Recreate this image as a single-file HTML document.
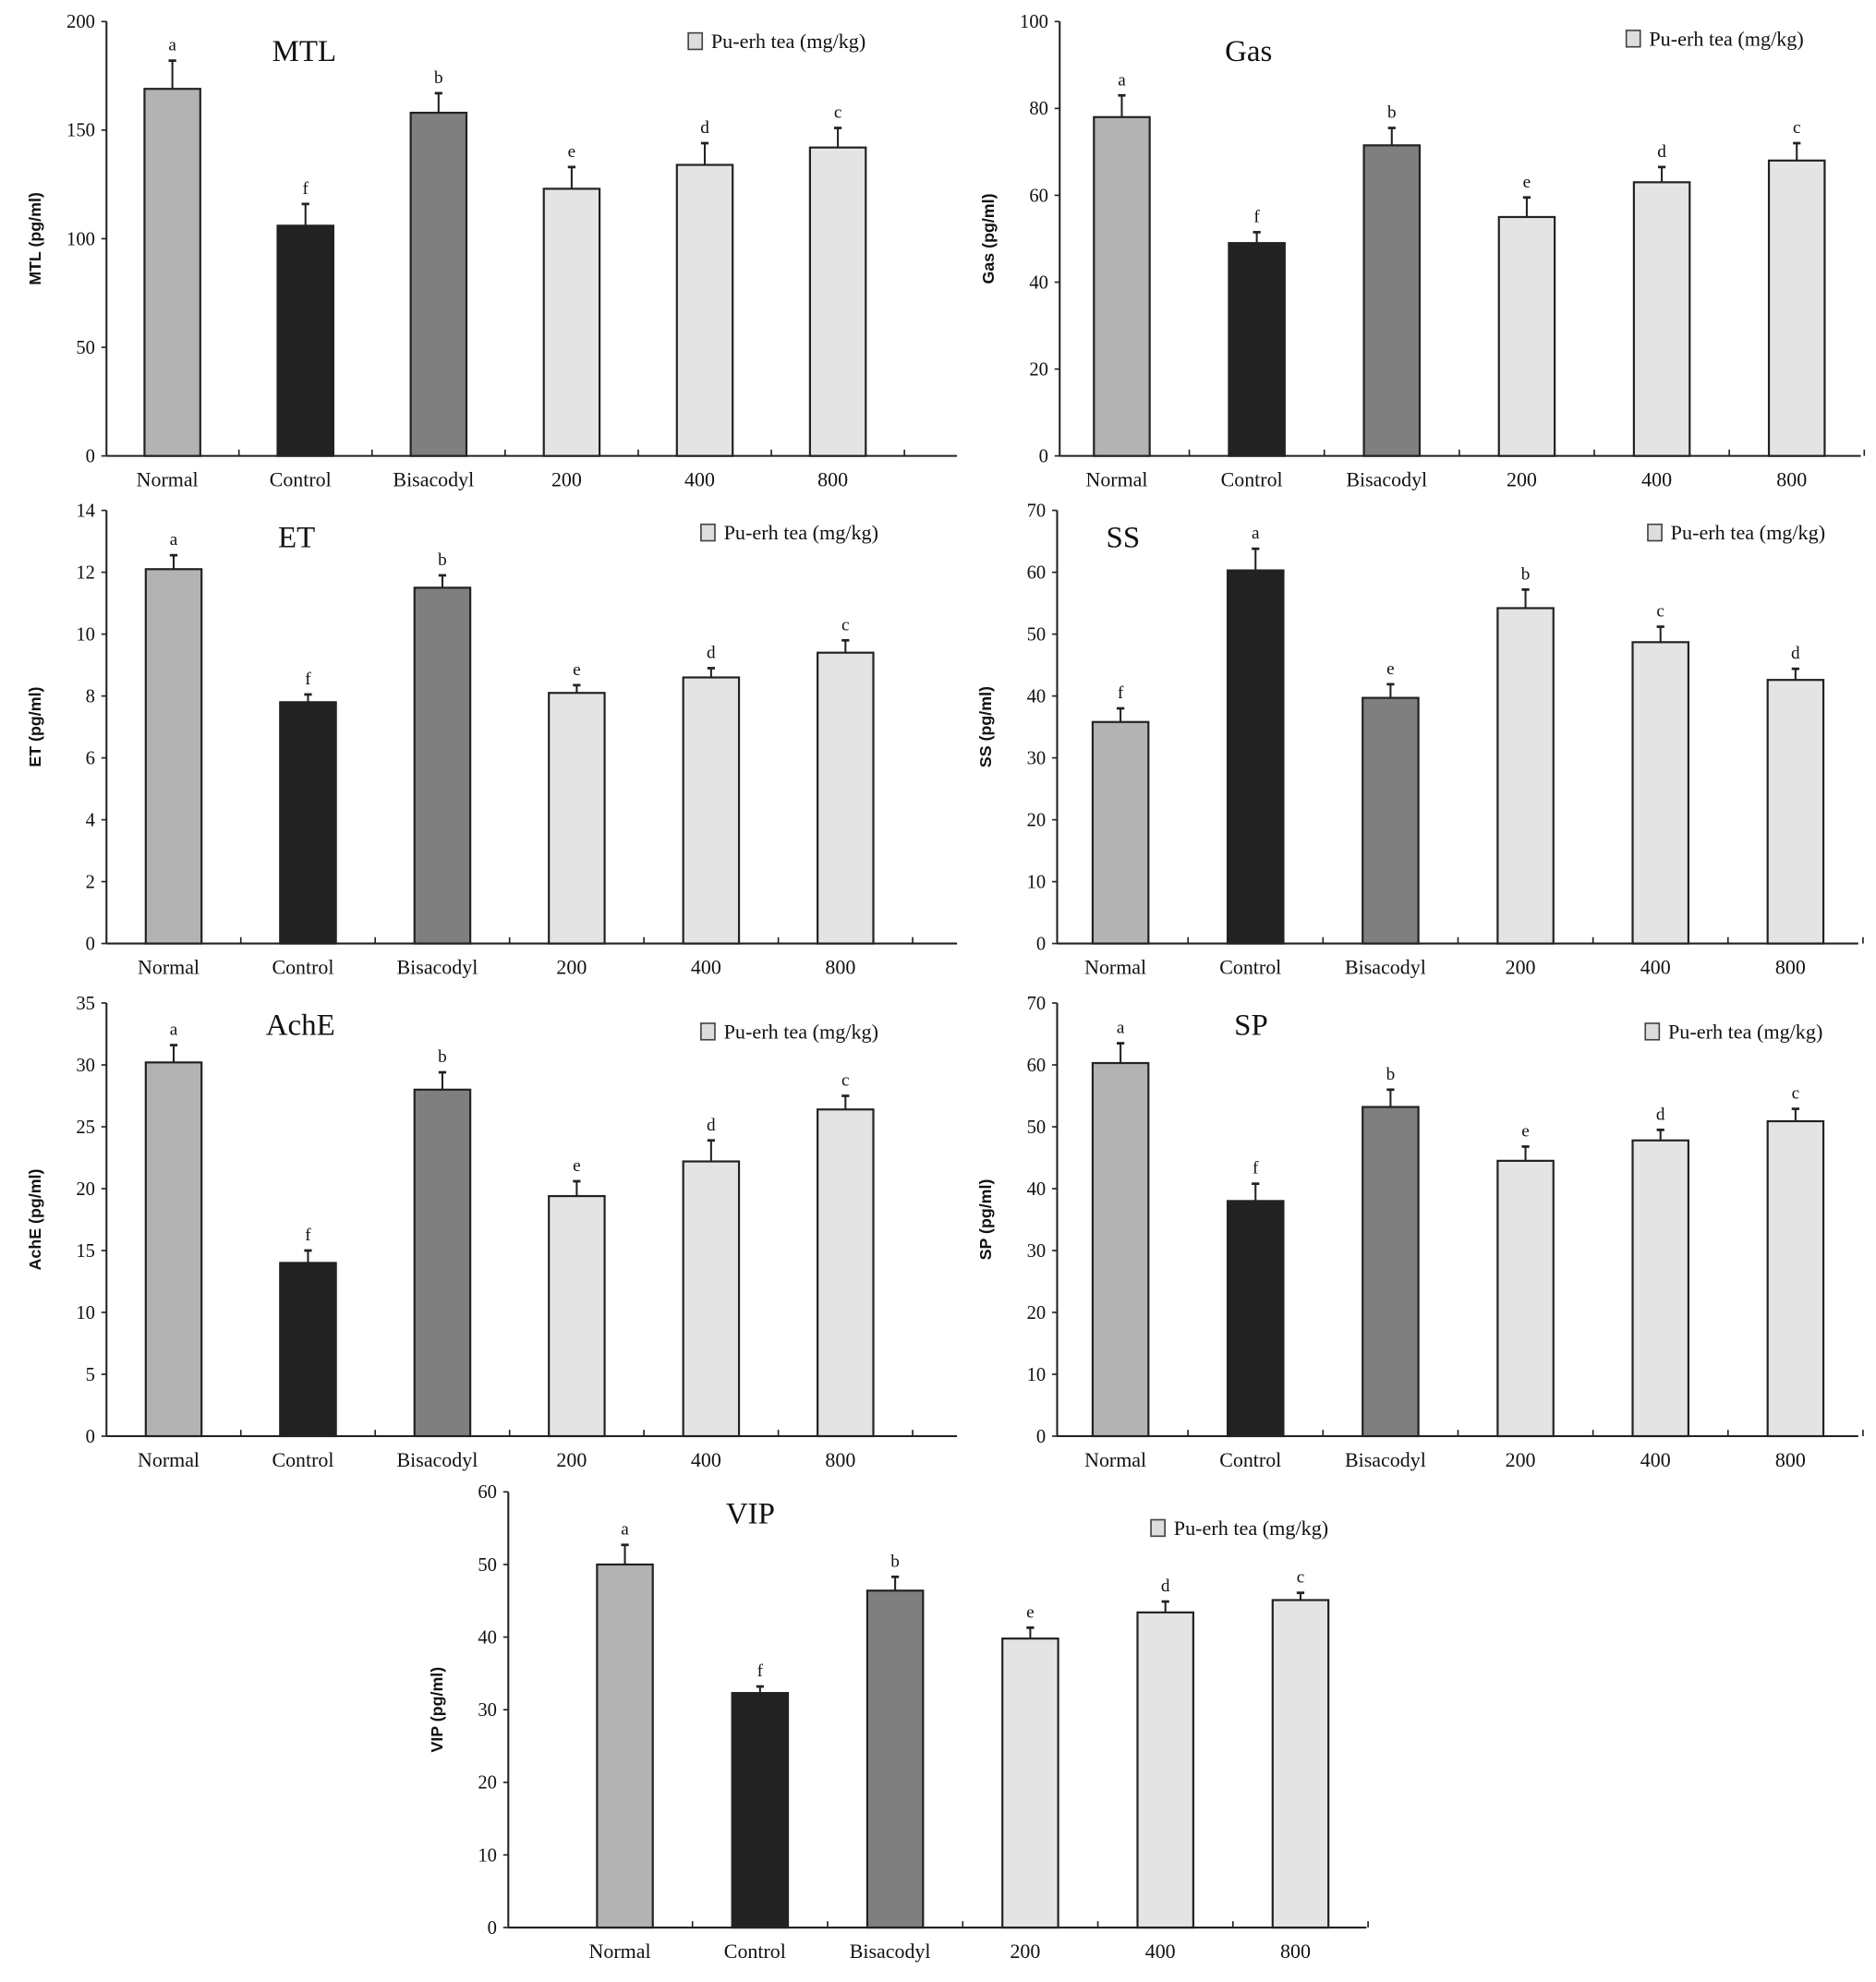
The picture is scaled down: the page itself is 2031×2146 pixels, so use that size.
<!DOCTYPE html>
<html><head><meta charset="utf-8"><style>
html,body{margin:0;padding:0;background:#fff;}
svg{display:block;}
text{font-family:"Liberation Serif",serif;fill:#111;}
.yt{font-family:"Liberation Sans",sans-serif;font-weight:bold;}
</style></head><body>
<svg id="fig" width="2031" height="2146" viewBox="0 0 1480 1565" preserveAspectRatio="none" xmlns="http://www.w3.org/2000/svg"></svg>
<script>
const categories = ["Normal","Control","Bisacodyl","200","400","800"];
const mtlValues = [169,106,158,123,134,142];
const mtlErrors = [13,10,9,10,10,9];
const mtlLetters = ["a","f","b","e","d","c"];
const mtlTicks = [0,50,100,150,200];
const gasValues = [78,49,71.5,55,63,68];
const gasErrors = [5,2.5,4,4.5,3.5,4];
const gasLetters = ["a","f","b","e","d","c"];
const gasTicks = [0,20,40,60,80,100];
const etValues = [12.1,7.8,11.5,8.1,8.6,9.4];
const etErrors = [0.45,0.25,0.4,0.25,0.3,0.4];
const etLetters = ["a","f","b","e","d","c"];
const etTicks = [0,2,4,6,8,10,12,14];
const ssValues = [35.8,60.3,39.7,54.2,48.7,42.6];
const ssErrors = [2.2,3.5,2.2,3,2.5,1.8];
const ssLetters = ["f","a","e","b","c","d"];
const ssTicks = [0,10,20,30,40,50,60,70];
const acheValues = [30.2,14,28,19.4,22.2,26.4];
const acheErrors = [1.4,1,1.4,1.2,1.7,1.1];
const acheLetters = ["a","f","b","e","d","c"];
const acheTicks = [0,5,10,15,20,25,30,35];
const spValues = [60.3,38,53.2,44.5,47.8,50.9];
const spErrors = [3.2,2.8,2.8,2.3,1.7,2];
const spLetters = ["a","f","b","e","d","c"];
const spTicks = [0,10,20,30,40,50,60,70];
const vipValues = [50,32.3,46.4,39.8,43.4,45.1];
const vipErrors = [2.7,0.9,1.9,1.5,1.5,1];
const vipLetters = ["a","f","b","e","d","c"];
const vipTicks = [0,10,20,30,40,50,60];

const NS="http://www.w3.org/2000/svg";
const svg=document.getElementById('fig');
function mk(tag,attrs,parent){const e=document.createElementNS(NS,tag);for(const k in attrs)e.setAttribute(k,attrs[k]);(parent||svg).appendChild(e);return e;}
const fills=["#b3b3b3","#222222","#7f7f7f","#e4e4e4","#e4e4e4","#e4e4e4"];

function panel(name,values,errors,letters,ticks,g){
  const grp=mk('g',{});
  
  
  const maxV=ticks[ticks.length-1];
  const y=v=>g.y0-(v/maxV)*(g.y0-g.yTop);
  const x=i=>g.first+i*g.step;
  // y axis
  const ya=mk('line',{x1:g.ax,y1:g.yTop,x2:g.ax,y2:g.y0,stroke:'#222','stroke-width':1.5},grp);
  
  
  const xa=mk('line',{x1:g.ax,y1:g.y0,x2:g.xEnd,y2:g.y0,stroke:'#222','stroke-width':1.5},grp);
  
  
  ticks.forEach(t=>{
    mk('line',{x1:g.ax-4,y1:y(t),x2:g.ax,y2:y(t),stroke:'#222','stroke-width':1.2},grp);
    const tl=mk('text',{x:g.ax-9,y:y(t)+5,'text-anchor':'end','font-size':15},grp);
    tl.textContent=t;
    
    
  });
  for(let i=1;i<=6;i++){const tx=x(i)-g.step/2;mk('line',{x1:tx,y1:g.y0,x2:tx,y2:g.y0-5,stroke:'#222','stroke-width':1.2},grp);}
  values.forEach((v,i)=>{
    const cx=x(i),w=44,top=y(v),et=y(v+errors[i]);
    mk('line',{x1:cx,y1:top,x2:cx,y2:et,stroke:'#222','stroke-width':1.5},grp);
    mk('line',{x1:cx-3,y1:et,x2:cx+3,y2:et,stroke:'#222','stroke-width':2},grp);
    const b=mk('rect',{x:cx-w/2,y:top,width:w,height:g.y0-top,fill:fills[i],stroke:'#222','stroke-width':1.6},grp);
    
    
    const lt=mk('text',{x:cx,y:et-8,'text-anchor':'middle','font-size':14},grp);
    lt.textContent=letters[i];
    
    
    const cl=mk('text',{x:cx-4,y:g.y0+24,'text-anchor':'middle','font-size':16},grp);
    cl.textContent=categories[i];
    
    
  });
  const tt=mk('text',{x:g.tx,y:g.ty,'text-anchor':'middle','font-size':24},grp);
  tt.textContent=name;
  
  
  const yl=mk('text',{x:0,y:0,'text-anchor':'middle','font-size':13,class:'yt',transform:'translate('+(g.ax-52)+','+((g.yTop+g.y0)/2)+') rotate(-90)'},grp);
  yl.textContent=name+' (pg/ml)';
  
  
  const ls=mk('rect',{x:g.lx,y:g.ly-12,width:11,height:13,fill:'#ddd',stroke:'#444','stroke-width':1.2},grp);
  
  
  const lg=mk('text',{x:g.lx+18,y:g.ly,'font-size':16,textLength:122,lengthAdjust:'spacingAndGlyphs'},grp);
  lg.textContent='Pu-erh tea (mg/kg)';
  
  
}
panel('MTL',mtlValues,mtlErrors,mtlLetters,mtlTicks,{ax:84,xEnd:755,yTop:17,y0:360,first:136,step:105,tx:240,ty:48,lx:543,ly:38});
panel('Gas',gasValues,gasErrors,gasLetters,gasTicks,{ax:836,xEnd:1468,yTop:17,y0:360,first:885,step:106.5,tx:985,ty:48,lx:1283,ly:36});
panel('ET',etValues,etErrors,etLetters,etTicks,{ax:84,xEnd:755,yTop:403,y0:745,first:137,step:106,tx:234,ty:432,lx:553,ly:426});
panel('SS',ssValues,ssErrors,ssLetters,ssTicks,{ax:834,xEnd:1466,yTop:403,y0:745,first:884,step:106.5,tx:886,ty:432,lx:1300,ly:426});
panel('AchE',acheValues,acheErrors,acheLetters,acheTicks,{ax:84,xEnd:755,yTop:792,y0:1134,first:137,step:106,tx:237,ty:817,lx:553,ly:820});
panel('SP',spValues,spErrors,spLetters,spTicks,{ax:834,xEnd:1466,yTop:792,y0:1134,first:884,step:106.5,tx:987,ty:817,lx:1298,ly:820});
panel('VIP',vipValues,vipErrors,vipLetters,vipTicks,{ax:401,xEnd:1078,yTop:1178,y0:1522,first:493,step:106.6,tx:592,ty:1203,lx:908,ly:1212});
</script>
</body></html>
